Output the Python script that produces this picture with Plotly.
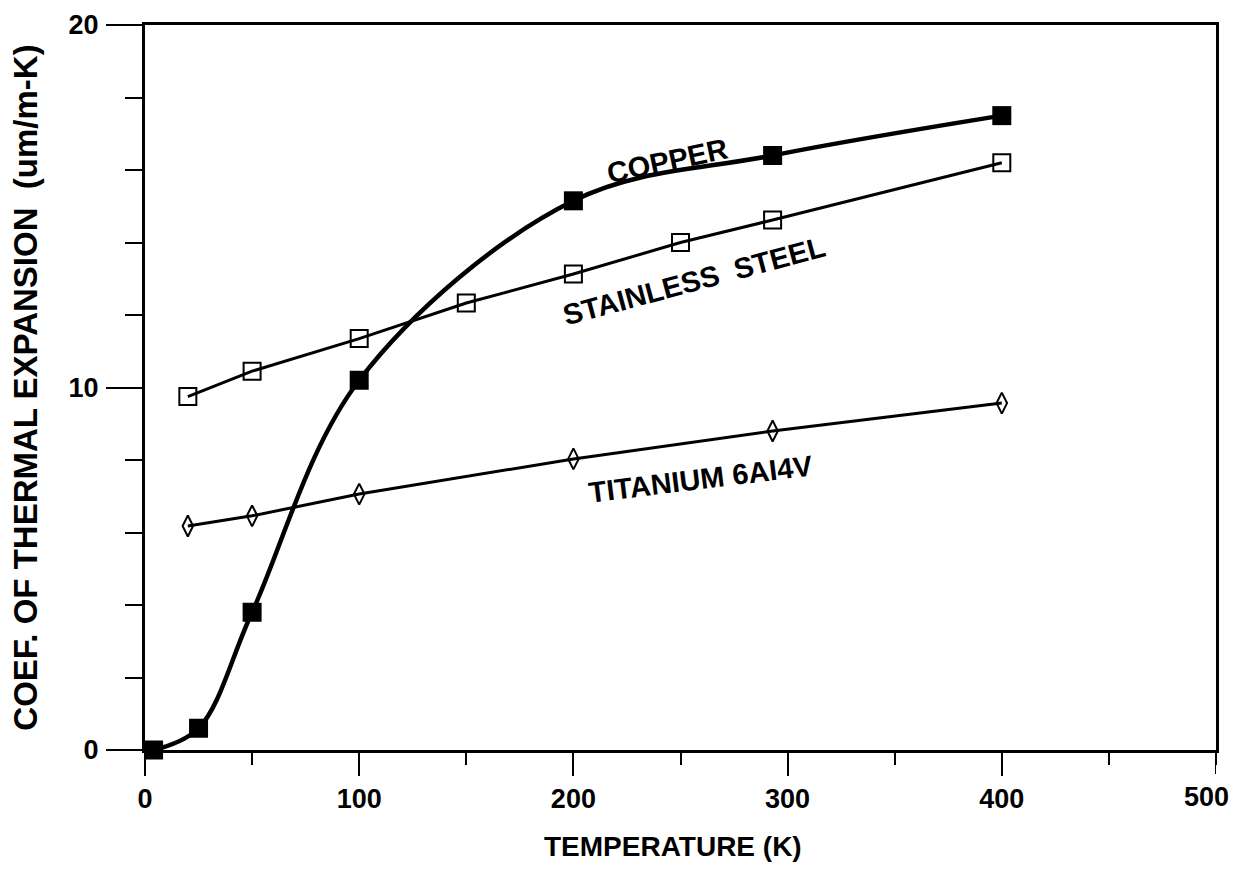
import plotly.graph_objects as go

# Coefficient of thermal expansion (um/m-K) vs temperature (K)
copper_t = [4, 25, 50, 100, 200, 293, 400]
copper_cte = [0.0, 0.6, 3.8, 10.2, 15.15, 16.4, 17.5]

steel_t = [20, 50, 100, 150, 200, 250, 293, 400]
steel_cte = [9.75, 10.45, 11.35, 12.33, 13.13, 14.0, 14.62, 16.2]

titanium_t = [20, 50, 100, 200, 293, 400]
titanium_cte = [6.18, 6.46, 7.06, 8.03, 8.8, 9.57]

x_ticks = [0, 100, 200, 300, 400, 500]

FONT = "Liberation Sans"
BOLD = dict(family=FONT, color="black", weight="bold")

fig = go.Figure()

fig.add_trace(go.Scatter(
    x=steel_t, y=steel_cte, mode="lines+markers",
    line=dict(color="black", width=3),
    marker=dict(symbol="square-open", size=17, color="black", line=dict(width=2)),
    showlegend=False, cliponaxis=False,
))
fig.add_trace(go.Scatter(
    x=titanium_t, y=titanium_cte, mode="lines+markers",
    line=dict(color="black", width=3),
    marker=dict(symbol="diamond-tall-open", size=15, color="black", line=dict(width=2)),
    showlegend=False, cliponaxis=False,
))
fig.add_trace(go.Scatter(
    x=copper_t, y=copper_cte, mode="lines+markers",
    line=dict(color="black", width=4.5, shape="spline", smoothing=1.0),
    marker=dict(symbol="square", size=19, color="black"),
    showlegend=False, cliponaxis=False,
))

labels = [
    ("COPPER", 243.7, 16.25, -12),
    ("STAINLESS  STEEL", 256.3, 12.94, -15),
    ("TITANIUM 6AI4V", 259.6, 7.48, -7),
]
for text, x, y, ang in labels:
    fig.add_annotation(
        x=x, y=y, text=text, showarrow=False, textangle=ang,
        font=dict(BOLD, size=29),
    )

# The last x tick label sits flush against the right edge, so it is
# placed as an annotation pulled slightly inward.
fig.add_annotation(
    x=x_ticks[-1], xref="x", y=0, yref="paper", text=str(x_ticks[-1]),
    showarrow=False, xanchor="center", yanchor="middle", xshift=-10, yshift=-47,
    font=dict(BOLD, size=27),
)
fig.add_annotation(
    x=0.493, xref="paper", y=0, yref="paper", text="TEMPERATURE (K)",
    showarrow=False, xanchor="center", yanchor="middle", yshift=-96,
    font=dict(BOLD, size=28),
)

fig.update_xaxes(
    range=[0, 500], tickvals=x_ticks[:-1], ticks="outside", ticklen=23, tickwidth=2,
    tickcolor="black", minor=dict(tick0=0, dtick=50, ticks="outside", ticklen=12, tickwidth=2, tickcolor="black"),
    showline=True, linecolor="black", linewidth=3, mirror=True, automargin=False,
    showgrid=False, zeroline=False, ticklabelstandoff=0,
    tickfont=dict(BOLD, size=27),
)
# major tick at the right end without a label
fig.add_shape(type="line", xref="x", yref="paper", x0=500, x1=500, y0=0, y1=-0.033,
              line=dict(color="black", width=2))
fig.update_yaxes(
    range=[0, 20], tick0=0, dtick=10, ticks="outside", ticklen=36, tickwidth=2,
    tickcolor="black", minor=dict(dtick=2, ticks="outside", ticklen=17, tickwidth=2, tickcolor="black"),
    showline=True, linecolor="black", linewidth=3, mirror=True, automargin=False,
    showgrid=False, zeroline=False, ticklabelstandoff=2,
    tickfont=dict(BOLD, size=27),
    title=dict(text="COEF. OF THERMAL EXPANSION  (um/m-K)", standoff=22,
               font=dict(BOLD, size=33)),
)

fig.update_layout(
    width=1237, height=874,
    margin=dict(l=145, r=21, t=25, b=124),
    paper_bgcolor="white", plot_bgcolor="white",
)

fig.write_html("out.html")
